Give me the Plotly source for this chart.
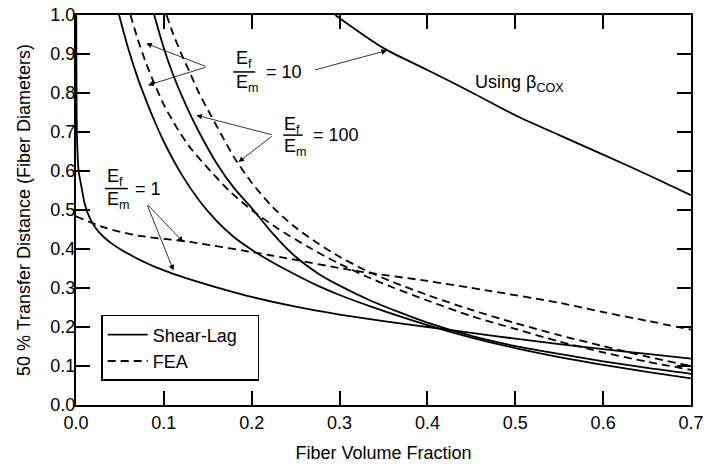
import plotly.graph_objects as go

# data (fiber volume fraction vs 50 % transfer distance)
sl1_x = [0.0003, 0.001, 0.003, 0.0065, 0.01, 0.016, 0.023, 0.031, 0.04, 0.05, 0.06, 0.07, 0.08, 0.09, 0.11, 0.14, 0.17,
         0.2, 0.25, 0.3, 0.35, 0.4, 0.45, 0.5, 0.55, 0.6, 0.65, 0.7]
sl1_y = [1.0, 0.7, 0.6, 0.556, 0.515, 0.478, 0.452, 0.432, 0.415, 0.4, 0.387, 0.375, 0.364, 0.354, 0.337, 0.315, 0.295,
         0.277, 0.252, 0.232, 0.215, 0.2, 0.185, 0.17, 0.156, 0.143, 0.131, 0.119]

fea1_x = [0.0, 0.031, 0.069, 0.13, 0.221, 0.316, 0.4, 0.467, 0.55, 0.6, 0.65, 0.7]
fea1_y = [0.484, 0.456, 0.435, 0.418, 0.384, 0.345, 0.318, 0.294, 0.262, 0.238, 0.216, 0.193]

sl10_x = [0.049, 0.06, 0.07, 0.08, 0.09, 0.1, 0.12, 0.14, 0.16, 0.18, 0.2, 0.225, 0.25, 0.275,
          0.3, 0.335, 0.4, 0.45, 0.5, 0.55, 0.6, 0.65, 0.7]
sl10_y = [1.0, 0.91, 0.84, 0.78, 0.725, 0.675, 0.592, 0.525, 0.472, 0.43, 0.398, 0.364, 0.334, 0.306,
          0.282, 0.253, 0.205, 0.173, 0.146, 0.123, 0.103, 0.085, 0.068]

fea10_x = [0.062, 0.07, 0.08, 0.09, 0.1, 0.115, 0.13, 0.153, 0.175, 0.2, 0.228, 0.266, 0.3, 0.33,
           0.36, 0.4, 0.45, 0.5, 0.55, 0.6, 0.65, 0.7]
fea10_y = [1.0, 0.94, 0.875, 0.82, 0.77, 0.71, 0.66, 0.6, 0.548, 0.5, 0.455, 0.403, 0.362, 0.33,
           0.302, 0.268, 0.228, 0.195, 0.163, 0.135, 0.111, 0.09]

sl100_x = [0.089, 0.1, 0.11, 0.12, 0.13, 0.14, 0.16, 0.18, 0.2, 0.225, 0.25, 0.275, 0.3, 0.335,
           0.37, 0.4, 0.45, 0.5, 0.55, 0.6, 0.65, 0.7]
sl100_y = [1.0, 0.915, 0.85, 0.795, 0.745, 0.7, 0.62, 0.556, 0.505, 0.437, 0.38, 0.338, 0.306, 0.268,
           0.236, 0.211, 0.177, 0.151, 0.131, 0.112, 0.095, 0.08]

fea100_x = [0.103, 0.11, 0.12, 0.13, 0.14, 0.153, 0.165, 0.18, 0.2, 0.225, 0.25, 0.275, 0.3, 0.33,
            0.36, 0.4, 0.45, 0.5, 0.55, 0.6, 0.65, 0.7]
fea100_y = [1.0, 0.955, 0.9, 0.85, 0.8, 0.745, 0.695, 0.635, 0.57, 0.505, 0.455, 0.415, 0.38, 0.345,
            0.316, 0.282, 0.244, 0.21, 0.179, 0.151, 0.124, 0.1]

cox_x = [0.295, 0.35, 0.4, 0.45, 0.5, 0.55, 0.6, 0.65, 0.7]
cox_y = [1.0, 0.915, 0.859, 0.802, 0.743, 0.692, 0.642, 0.591, 0.538]

x_ticks = [0.0, 0.1, 0.2, 0.3, 0.4, 0.5, 0.6, 0.7]
y_ticks = [0.0, 0.1, 0.2, 0.3, 0.4, 0.5, 0.6, 0.7, 0.8, 0.9, 1.0]

FONT = "Liberation Sans, Arial, sans-serif"
DASH = "8px,5px"
NBSP = "\u00a0"

fig = go.Figure()


def add_curve(x, y, dashed, name=None, smoothing=0.8):
    fig.add_trace(
        go.Scatter(
            x=x,
            y=y,
            mode="lines",
            name=name,
            showlegend=name is not None,
            line=dict(
                color="black",
                width=1.8,
                dash=DASH if dashed else "solid",
                shape="spline",
                smoothing=smoothing,
            ),
            hoverinfo="skip",
        )
    )


add_curve(sl1_x, sl1_y, False, "Shear-Lag" + NBSP * 3, smoothing=0.5)
add_curve(fea1_x, fea1_y, True, "FEA")
add_curve(sl10_x, sl10_y, False)
add_curve(fea10_x, fea10_y, True)
add_curve(sl100_x, sl100_y, False)
add_curve(fea100_x, fea100_y, True)
add_curve(cox_x, cox_y, False)

# ratio labels: numerator, fraction bar, denominator, "= n"
ratio_labels = [
    # (numerator x, y, bar x0, x1, bar y, denominator y, eq x, eq text)
    (0.191, 0.886, 0.179, 0.204, 0.854, 0.825, 0.237, "= 10"),
    (0.246, 0.717, 0.236, 0.258, 0.692, 0.661, 0.296, "= 100"),
    (0.044, 0.583, 0.033, 0.059, 0.555, 0.525, 0.082, "= 1"),
]
for nx, ny, bx0, bx1, by, dy, ex, etext in ratio_labels:
    fig.add_annotation(x=nx, y=ny, text="E<sub>f</sub>", showarrow=False,
                       font=dict(size=18, family=FONT, color="black"))
    fig.add_annotation(x=nx + 0.004, y=dy, text="E<sub>m</sub>", showarrow=False,
                       font=dict(size=18, family=FONT, color="black"))
    fig.add_shape(type="line", x0=bx0, x1=bx1, y0=by, y1=by,
                  line=dict(color="black", width=1.5))
    fig.add_annotation(x=ex, y=by, text=etext, showarrow=False,
                       font=dict(size=18, family=FONT, color="black"))

# leader arrows (tail -> head)
arrows = [
    (0.149, 0.867, 0.08, 0.927),
    (0.149, 0.867, 0.082, 0.82),
    (0.27, 0.858, 0.354, 0.909),
    (0.2246, 0.692, 0.137, 0.743),
    (0.2246, 0.692, 0.185, 0.623),
    (0.0805, 0.516, 0.122, 0.418),
    (0.0805, 0.516, 0.111, 0.345),
]
for tx, ty, hx, hy in arrows:
    fig.add_annotation(
        x=hx, y=hy, ax=tx, ay=ty, xref="x", yref="y", axref="x", ayref="y",
        text="", showarrow=True, arrowhead=2, arrowsize=1.4, arrowwidth=0.8,
        arrowcolor="black",
    )

fig.add_annotation(x=0.505, y=0.825, text="Using β<sub>COX</sub>", showarrow=False,
                   font=dict(size=18, family=FONT, color="black"))

axis_common = dict(
    automargin=False,
    showline=True,
    linecolor="black",
    linewidth=2,
    mirror="ticks",
    ticks="inside",
    ticklen=14,
    tickwidth=2,
    tickcolor="black",
    showgrid=False,
    zeroline=False,
    tickformat=".1f",
    tickfont=dict(size=18, family=FONT, color="black"),
)

fig.update_xaxes(
    range=[0, 0.7],
    tickvals=x_ticks,
    title=dict(text="Fiber Volume Fraction", font=dict(size=18, family=FONT, color="black")),
    **axis_common,
)
fig.update_yaxes(
    range=[0, 1.0],
    tickvals=y_ticks,
    ticklabelstandoff=-5,
    title=dict(text="50 % Transfer Distance (Fiber Diameters)", font=dict(size=18, family=FONT, color="black")),
    **axis_common,
)

fig.update_layout(
    width=704,
    height=464,
    margin=dict(l=76, r=13, t=15, b=59),
    paper_bgcolor="white",
    plot_bgcolor="white",
    font=dict(family=FONT, color="black"),
    legend=dict(
        x=0.041,
        y=0.231,
        xanchor="left",
        yanchor="top",
        bordercolor="black",
        borderwidth=1.5,
        bgcolor="white",
        font=dict(size=18, family=FONT, color="black"),
        itemwidth=40,
        tracegroupgap=0,
    ),
)

# drop the browser's default page margin so the figure sits at the window corner
fig.write_html(
    "out.html",
    config={"displayModeBar": False},
    post_script="document.body.style.margin='0';",
)
